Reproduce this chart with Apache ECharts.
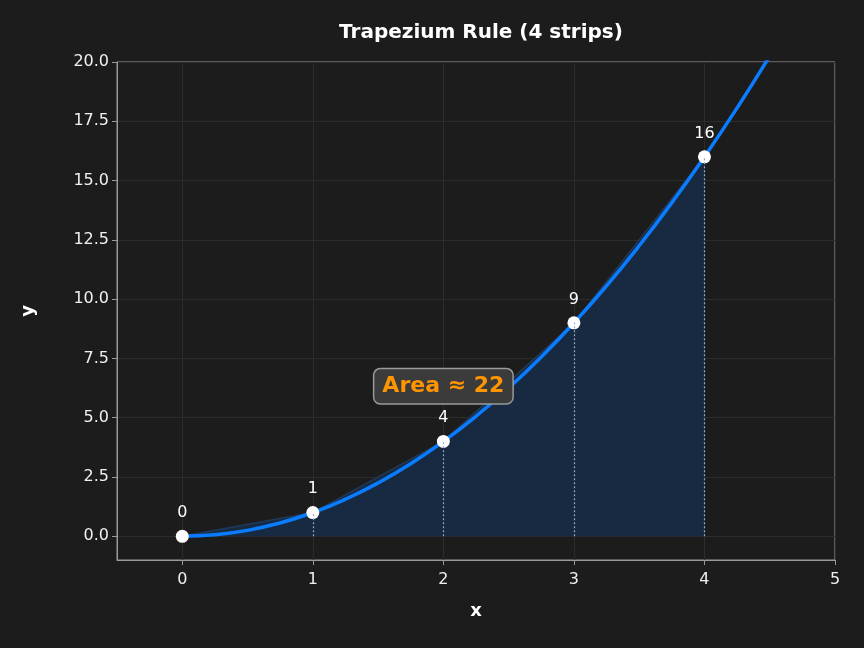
<!DOCTYPE html>
<html><head><meta charset="utf-8">
<script src="https://cdn.jsdelivr.net/npm/echarts@6/dist/echarts.min.js"></script>
<style>html,body{margin:0;background:#1c1c1d}#c{width:864px;height:648px}</style>
</head><body><div id="c"></div>
<script>
// strip nodes of the trapezium rule
const nodeX = [0, 1, 2, 3, 4];
const nodeY = [0, 1, 4, 9, 16];
// smooth curve y = x^2 read at quarter steps
const curveX = [0, 0.25, 0.5, 0.75, 1, 1.25, 1.5, 1.75, 2, 2.25, 2.5, 2.75, 3, 3.25, 3.5, 3.75, 4, 4.25, 4.5];
const curveY = [0, 0.0625, 0.25, 0.5625, 1, 1.5625, 2.25, 3.0625, 4, 5.0625, 6.25, 7.5625, 9, 10.5625, 12.25, 14.0625, 16, 18.0625, 20.25];
const areaLabel = 'Area ≈ 22';
const xTicks = [0, 1, 2, 3, 4, 5];
const yTicks = [0, 2.5, 5, 7.5, 10, 12.5, 15, 17.5, 20];

const chart = echarts.init(document.getElementById('c'));
const font = 'DejaVu Sans';
const tick = vals => ({ show: true, length: 5, lineStyle: { color: '#9a9a9a' }, customValues: vals });
const label = { color: '#f0f0f0', fontSize: 16, fontFamily: font };
const line = { show: true, onZero: false, lineStyle: { color: '#9a9a9a' } };
const split = { show: true, lineStyle: { color: '#2c2c2c' } };
const nameStyle = { color: '#ffffff', fontSize: 18, fontWeight: 'bold', fontFamily: font };
chart.setOption({
  backgroundColor: '#1c1c1d',
  animation: false,
  title: { text: 'Trapezium Rule (4 strips)', left: 476, top: 18, textAlign: 'center',
    textStyle: { color: '#ffffff', fontSize: 20, fontWeight: 'bold', fontFamily: font } },
  grid: { left: 117, right: 29, top: 62, bottom: 88, show: true, borderColor: '#9a9a9a', backgroundColor: '#1c1c1d' },
  xAxis: { type: 'value', min: -0.5, max: 5, name: 'x', nameLocation: 'middle', nameGap: 42,
    nameTextStyle: nameStyle, axisLine: line, splitLine: split, axisTick: tick(xTicks),
    axisLabel: Object.assign({}, label, { margin: 12, customValues: xTicks }) },
  yAxis: { type: 'value', min: -1, max: 20, name: 'y', nameLocation: 'middle', nameGap: 80,
    nameTextStyle: nameStyle, axisLine: line, splitLine: split, axisTick: tick(yTicks),
    axisLabel: Object.assign({}, label, { customValues: yTicks, formatter: v => v.toFixed(1) }) },
  series: [
    { type: 'line', data: nodeX.map((x, i) => [x, nodeY[i]]), symbol: 'none', z: 1,
      lineStyle: { color: '#1f3a5c', width: 1.5 },
      areaStyle: { color: '#182a42', opacity: 1, origin: 0 } },
    { type: 'line', data: curveX.map((x, i) => [x, curveY[i]]), smooth: true, symbol: 'none', z: 3,
      lineStyle: { color: '#0a7cff', width: 3.5 } },
    { type: 'scatter', data: nodeX.map((x, i) => [x, nodeY[i]]), symbolSize: 13, z: 4,
      itemStyle: { color: '#ffffff', opacity: 1 },
      label: { show: true, position: 'top', distance: 9, color: '#ffffff', fontSize: 16, fontFamily: font,
        formatter: p => String(p.value[1]) },
      markLine: { symbol: 'none', silent: true, label: { show: false },
        lineStyle: { color: '#8fa8c8', type: [2, 2], width: 1.2 },
        data: nodeX.slice(1).map((x, i) => [{ coord: [x, 0] }, { coord: [x, nodeY[i + 1]] }]) } },
    { type: 'scatter', data: [[2, 6.33]], symbolSize: 0, z: 6, itemStyle: { opacity: 1 },
      label: { show: true, position: 'inside', formatter: areaLabel, color: '#ff9500', fontSize: 22,
        fontWeight: 'bold', fontFamily: font, backgroundColor: '#3b3b3c', borderColor: '#9a9a9a',
        borderWidth: 1.5, borderRadius: 6, padding: [7, 8, 5, 8] } }
  ]
});
</script></body></html>
